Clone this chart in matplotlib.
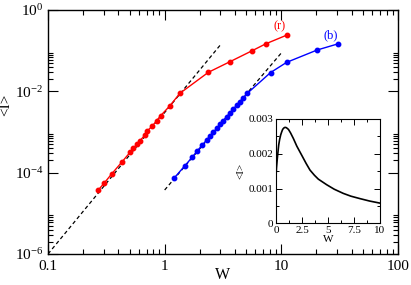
import numpy as np
import matplotlib
matplotlib.use("Agg")
import matplotlib.pyplot as plt
from matplotlib.ticker import FixedLocator, FixedFormatter

plt.rcParams["font.family"] = ["Liberation Serif", "DejaVu Serif"]
plt.rcParams["mathtext.fontset"] = "custom"
plt.rcParams["mathtext.rm"] = "Liberation Serif"
plt.rcParams["mathtext.it"] = "Liberation Serif:italic"

# =========================
# DATA
# =========================

w_red = [0.270, 0.302, 0.351, 0.428, 0.505, 0.539, 0.576, 0.614, 0.678,
         0.709, 0.783, 0.854, 0.924, 1.11, 1.35, 2.37, 3.63, 5.63, 7.38, 11.2]
I_red = [3.75e-5, 5.47e-5, 9.27e-5, 1.80e-4, 3.17e-4, 3.97e-4, 4.98e-4,
         6.11e-4, 8.43e-4, 1.06e-3, 1.40e-3, 1.90e-3, 2.52e-3, 4.43e-3,
         8.93e-3, 0.0294, 0.0536, 0.100, 0.148, 0.243]

w_blue = [1.20, 1.49, 1.72, 1.90, 2.10, 2.29, 2.44, 2.61, 2.79, 2.98, 3.18,
          3.40, 3.63, 3.87, 4.14, 4.42, 4.72, 5.11, 8.09, 11.1, 20.3, 30.8]
I_blue = [7.26e-5, 1.48e-4, 2.39e-4, 3.41e-4, 4.79e-4, 6.35e-4, 7.96e-4,
          9.81e-4, 1.23e-3, 1.55e-3, 1.90e-3, 2.38e-3, 2.93e-3, 3.67e-3,
          4.53e-3, 5.56e-3, 6.73e-3, 8.93e-3, 0.029, 0.0516, 0.104, 0.148]

# power-law guides (end points)
w_fit_red = [0.1, 3.03]
I_fit_red = [1e-6, 0.143]
w_fit_blue = [1.0, 10.2]
I_fit_blue = [3.75e-5, 0.094]

# inset, linear scale
w_inset = [0, 0.05, 0.13, 0.2, 0.26, 0.35, 0.45, 0.55, 0.64, 0.75, 0.87,
           1.0, 1.2, 1.4, 1.67, 2.0, 2.47, 2.9, 3.27, 3.7, 4.07, 4.87,
           5.6, 6.47, 7.2, 8.07, 9.0, 10]
I_inset = [0.00134, 0.00160, 0.00187, 0.00208, 0.00225, 0.00241, 0.00254,
           0.00263, 0.00270, 0.00274, 0.00276, 0.00275, 0.00270, 0.00260,
           0.00244, 0.00222, 0.00196, 0.00172, 0.00153, 0.00138, 0.00127,
           0.00111, 0.00098, 0.00086, 0.00078, 0.00071, 0.00064, 0.00058]

main_xticks = [0.1, 1, 10, 100]
main_xticklabels = ["0.1", "1", "10", "100"]
main_yticks = [1e-6, 1e-4, 1e-2, 1e0]
main_yticklabels = [r"$10^{-6}$", r"$10^{-4}$", r"$10^{-2}$", r"$10^{0}$"]

inset_xticks = [0, 2.5, 5, 7.5, 10]
inset_xticklabels = ["0", "2.5", "5", "7.5", "10"]
inset_yticks = [0, 0.001, 0.002, 0.003]
inset_yticklabels = ["0", "0.001", "0.002", "0.003"]

# =========================
# MAIN PANEL
# =========================

fig = plt.figure(figsize=(4.11, 2.85), dpi=100)
ax = fig.add_axes([0.1168, 0.1088, 0.8516, 0.8561])

ax.plot(w_fit_red, I_fit_red, "k--", lw=0.9, dashes=(3, 2.2))
ax.plot(w_fit_blue, I_fit_blue, "k--", lw=0.9, dashes=(3, 2.2))
ax.plot(w_red, I_red, "-o", color="red", lw=1.0, ms=3.2)
ax.plot(w_blue, I_blue, "-o", color="blue", lw=1.0, ms=3.2)

ax.set_xscale("log")
ax.set_yscale("log")
ax.set_xlim(0.1, 100)
ax.set_ylim(1e-6, 1)

ax.xaxis.set_major_locator(FixedLocator(main_xticks))
ax.xaxis.set_major_formatter(FixedFormatter(main_xticklabels))
ax.xaxis.set_minor_locator(FixedLocator(
    [k * 10.0 ** d for d in (-1, 0, 1) for k in range(2, 10)]))
ax.yaxis.set_major_locator(FixedLocator(main_yticks))
ax.yaxis.set_major_formatter(FixedFormatter(main_yticklabels))
ax.yaxis.set_minor_locator(FixedLocator(
    [k * 10.0 ** d for d in (-6, -4, -2) for k in range(2, 10)]))
ax.xaxis.set_minor_formatter(FixedFormatter([]))
ax.yaxis.set_minor_formatter(FixedFormatter([]))

ax.tick_params(which="both", direction="in", top=True, right=True,
               labelsize=11, width=0.8)
ax.tick_params(which="major", length=7)
ax.tick_params(which="minor", length=3.5)
ax.tick_params(axis="x", pad=4)
for s in ax.spines.values():
    s.set_linewidth(1.0)

ax.set_xlabel("W", fontsize=11.5)
ax.set_ylabel("<I>", fontsize=11)
ax.xaxis.set_label_coords(0.5, -0.052)
ax.yaxis.set_label_coords(-0.103, 0.61)

ax.text(8.5, 0.33, "(r)", color="red", fontsize=9)
ax.text(23, 0.2, "(b)", color="blue", fontsize=9)

# =========================
# INSET
# =========================

ins = fig.add_axes([0.6715, 0.2165, 0.2531, 0.3660])
ins.plot(w_inset, I_inset, "k-", lw=1.2)
ins.set_xlim(0, 10)
ins.set_ylim(0, 0.003)
ins.xaxis.set_major_locator(FixedLocator(inset_xticks))
ins.xaxis.set_major_formatter(FixedFormatter(inset_xticklabels))
ins.xaxis.set_minor_locator(FixedLocator([1.25, 3.75, 6.25, 8.75]))
ins.yaxis.set_major_locator(FixedLocator(inset_yticks))
ins.yaxis.set_major_formatter(FixedFormatter(inset_yticklabels))
ins.yaxis.set_minor_locator(FixedLocator([0.0005, 0.0015, 0.0025]))
ins.tick_params(which="both", direction="in", top=True, right=True,
                labelsize=8, width=0.7, pad=2)
ins.tick_params(which="major", length=4)
ins.tick_params(which="minor", length=2)
ins.set_xlabel("W", fontsize=8, labelpad=0)
ins.set_ylabel("<I>", fontsize=8, labelpad=2)

fig.savefig("out.png", dpi=100)
